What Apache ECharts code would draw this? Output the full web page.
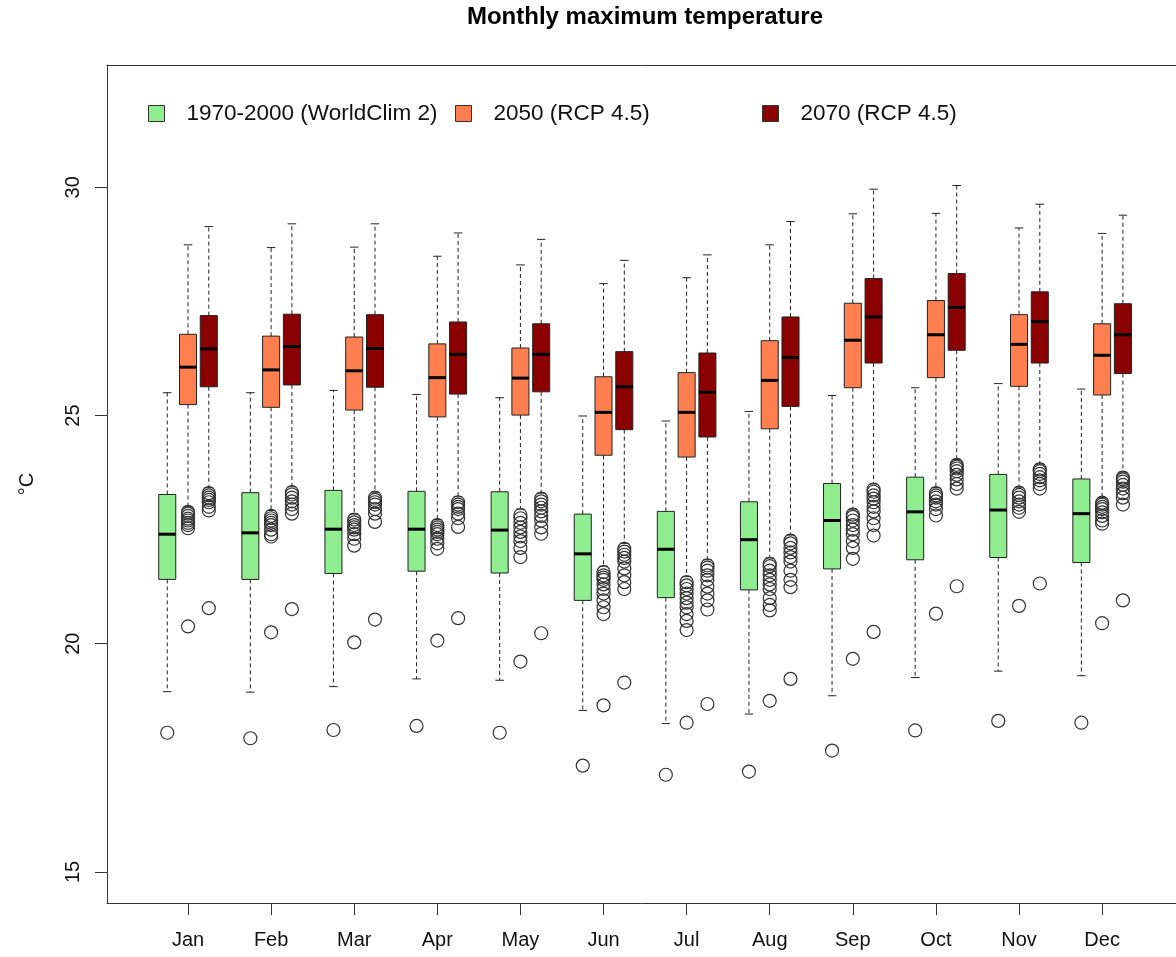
<!DOCTYPE html>
<html>
<head>
<meta charset="utf-8">
<title>Monthly maximum temperature</title>
<script src="https://cdn.jsdelivr.net/npm/echarts@6/dist/echarts.min.js"></script>
<style>
  html, body { margin: 0; padding: 0; background: #fff; }
  #chart { width: 1176px; height: 957px; }
</style>
</head>
<body>
<div id="chart"></div>
<script>
// ---- data ----------------------------------------------------------------
const months = ['Jan', 'Feb', 'Mar', 'Apr', 'May', 'Jun', 'Jul', 'Aug', 'Sep', 'Oct', 'Nov', 'Dec'];
const yTicks = [15, 20, 25, 30];
const groupNames = ['1970-2000 (WorldClim 2)', '2050 (RCP 4.5)', '2070 (RCP 4.5)'];
const groupColors = ['#90EE90', '#FF7F50', '#8B0000'];

// 1970-2000 (WorldClim 2): whisker low, Q1, median, Q3, whisker high
const base_lo  = [18.95, 18.94, 19.06, 19.23, 19.20, 18.54, 18.25, 18.46, 18.86, 19.26, 19.40, 19.30];
const base_q1  = [21.41, 21.41, 21.54, 21.59, 21.55, 20.95, 21.01, 21.18, 21.64, 21.84, 21.89, 21.78];
const base_med = [22.40, 22.43, 22.51, 22.51, 22.49, 21.97, 22.07, 22.28, 22.70, 22.89, 22.93, 22.85];
const base_q3  = [23.27, 23.31, 23.36, 23.34, 23.33, 22.84, 22.90, 23.11, 23.51, 23.65, 23.71, 23.61];
const base_hi  = [25.50, 25.50, 25.55, 25.46, 25.39, 24.99, 24.88, 25.09, 25.44, 25.61, 25.70, 25.58];
const base_out = [[18.05], [17.93], [18.11], [18.20], [18.05], [17.33], [17.13], [17.20], [17.66], [18.10], [18.31], [18.27]];

// 2050 (RCP 4.5)
const r2050_lo  = [23.00, 22.92, 22.84, 22.72, 22.95, 21.70, 21.47, 21.88, 22.95, 23.42, 23.43, 23.20];
const r2050_q1  = [25.24, 25.18, 25.12, 24.97, 25.01, 24.13, 24.09, 24.71, 25.61, 25.83, 25.64, 25.45];
const r2050_med = [26.06, 26.00, 25.98, 25.83, 25.82, 25.07, 25.07, 25.77, 26.65, 26.77, 26.56, 26.32];
const r2050_q3  = [26.78, 26.74, 26.72, 26.57, 26.48, 25.85, 25.94, 26.64, 27.46, 27.52, 27.21, 27.01];
const r2050_hi  = [28.74, 28.68, 28.69, 28.49, 28.30, 27.89, 28.02, 28.74, 29.42, 29.43, 29.11, 28.99];
const r2050_out = [
  [22.89, 22.85, 22.80, 22.74, 22.70, 22.65, 22.60, 22.53, 20.38],
  [22.80, 22.75, 22.70, 22.65, 22.60, 22.50, 22.40, 22.35, 20.25],
  [22.72, 22.66, 22.60, 22.55, 22.50, 22.40, 22.30, 22.15, 20.03],
  [22.60, 22.55, 22.50, 22.45, 22.40, 22.30, 22.20, 22.08, 20.07],
  [22.82, 22.75, 22.65, 22.55, 22.45, 22.35, 22.25, 22.10, 21.90, 19.61],
  [21.57, 21.50, 21.45, 21.40, 21.30, 21.20, 21.10, 20.95, 20.80, 20.65, 18.65],
  [21.35, 21.28, 21.20, 21.10, 21.00, 20.90, 20.80, 20.65, 20.50, 20.30, 18.27],
  [21.75, 21.70, 21.60, 21.50, 21.40, 21.30, 21.20, 21.00, 20.85, 20.73, 18.75],
  [22.83, 22.78, 22.70, 22.60, 22.50, 22.40, 22.25, 22.10, 21.86, 19.67],
  [23.30, 23.25, 23.20, 23.12, 23.05, 22.95, 22.81, 20.66],
  [23.31, 23.26, 23.20, 23.12, 23.05, 22.98, 22.89, 20.83],
  [23.09, 23.05, 23.00, 22.95, 22.88, 22.80, 22.70, 22.63, 20.45]
];

// 2070 (RCP 4.5)
const r2070_lo  = [23.42, 23.44, 23.32, 23.22, 23.30, 22.20, 21.84, 22.38, 23.50, 24.04, 23.94, 23.76];
const r2070_q1  = [25.63, 25.67, 25.62, 25.47, 25.52, 24.69, 24.53, 25.20, 26.15, 26.43, 26.15, 25.92];
const r2070_med = [26.46, 26.51, 26.47, 26.34, 26.34, 25.63, 25.51, 26.27, 27.16, 27.37, 27.06, 26.77];
const r2070_q3  = [27.19, 27.22, 27.21, 27.05, 27.01, 26.40, 26.37, 27.16, 28.00, 28.11, 27.71, 27.45];
const r2070_hi  = [29.14, 29.20, 29.20, 29.00, 28.86, 28.40, 28.52, 29.25, 29.96, 30.04, 29.63, 29.39];
const r2070_out = [
  [23.30, 23.25, 23.20, 23.15, 23.10, 23.00, 22.92, 20.78],
  [23.32, 23.27, 23.20, 23.12, 23.05, 22.95, 22.85, 20.76],
  [23.20, 23.15, 23.10, 23.05, 22.95, 22.85, 22.67, 20.53],
  [23.10, 23.05, 23.00, 22.95, 22.85, 22.75, 22.56, 20.56],
  [23.18, 23.12, 23.05, 22.98, 22.90, 22.80, 22.70, 22.55, 22.41, 20.23],
  [22.08, 22.02, 21.95, 21.88, 21.80, 21.65, 21.50, 21.35, 21.20, 19.15],
  [21.72, 21.67, 21.60, 21.50, 21.40, 21.25, 21.10, 20.95, 20.75, 18.68],
  [22.26, 22.20, 22.10, 22.00, 21.90, 21.80, 21.60, 21.40, 21.24, 19.23],
  [23.38, 23.33, 23.25, 23.18, 23.10, 23.00, 22.90, 22.75, 22.60, 22.37, 20.26],
  [23.92, 23.88, 23.84, 23.78, 23.70, 23.60, 23.50, 23.40, 21.26],
  [23.82, 23.78, 23.72, 23.65, 23.58, 23.50, 23.40, 21.32],
  [23.64, 23.60, 23.55, 23.48, 23.40, 23.30, 23.20, 23.05, 20.95]
];

// ---- layout constants ------------------------------------------------------
const GROUP_OFFSET = [-0.25, 0, 0.25];   // position of each period inside a month slot
const BOX_WIDTH = 0.205;                 // box width in month units
const X_MIN = 0.025;                     // plot frame starts just left of the first month
const X_MAX = 12.889;                    // canvas edge (the frame continues past it)
const FONT = '"Liberation Sans", Arial, Helvetica, sans-serif';
const INK = '#111';
const FRAME = '#333';

const groups = [
  { lo: base_lo,  q1: base_q1,  med: base_med,  q3: base_q3,  hi: base_hi,  out: base_out },
  { lo: r2050_lo, q1: r2050_q1, med: r2050_med, q3: r2050_q3, hi: r2050_hi, out: r2050_out },
  { lo: r2070_lo, q1: r2070_q1, med: r2070_med, q3: r2070_q3, hi: r2070_hi, out: r2070_out }
];

// Box with dashed whiskers, short staples and a heavy median bar.
function boxRenderer(fill) {
  return function (params, api) {
    const x = api.value(0);
    const cx = api.coord([x, api.value(3)])[0];
    const yLo = api.coord([x, api.value(1)])[1];
    const yQ1 = api.coord([x, api.value(2)])[1];
    const yMd = api.coord([x, api.value(3)])[1];
    const yQ3 = api.coord([x, api.value(4)])[1];
    const yHi = api.coord([x, api.value(5)])[1];
    const hw = api.size([BOX_WIDTH, 0])[0] / 2;
    const sw = hw * 0.5;
    const dashed = { stroke: '#222', lineWidth: 1, lineDash: [4, 3] };
    const solid = { stroke: '#222', lineWidth: 1 };
    return {
      type: 'group',
      children: [
        { type: 'line', shape: { x1: cx, y1: yQ3, x2: cx, y2: yHi }, style: dashed },
        { type: 'line', shape: { x1: cx, y1: yQ1, x2: cx, y2: yLo }, style: dashed },
        { type: 'line', shape: { x1: cx - sw, y1: yHi, x2: cx + sw, y2: yHi }, style: solid },
        { type: 'line', shape: { x1: cx - sw, y1: yLo, x2: cx + sw, y2: yLo }, style: solid },
        { type: 'rect', shape: { x: cx - hw, y: yQ3, width: 2 * hw, height: yQ1 - yQ3 },
          style: { fill: fill, stroke: '#222', lineWidth: 1 } },
        { type: 'line', shape: { x1: cx - hw, y1: yMd, x2: cx + hw, y2: yMd },
          style: { stroke: '#000', lineWidth: 3 } }
      ]
    };
  };
}

const series = [];
groups.forEach(function (g, gi) {
  const rows = months.map(function (m, i) {
    return [i + 1 + GROUP_OFFSET[gi], g.lo[i], g.q1[i], g.med[i], g.q3[i], g.hi[i]];
  });
  series.push({
    name: groupNames[gi],
    type: 'custom',
    renderItem: boxRenderer(groupColors[gi]),
    itemStyle: { color: groupColors[gi] },
    encode: { x: 0, y: [1, 2, 3, 4, 5] },
    data: rows,
    silent: true,
    z: 2
  });
});
groups.forEach(function (g, gi) {
  const pts = [];
  g.out.forEach(function (vals, i) {
    vals.forEach(function (v) { pts.push([i + 1 + GROUP_OFFSET[gi], v]); });
  });
  series.push({
    name: groupNames[gi] + ' outliers',
    type: 'scatter',
    symbol: 'circle',
    symbolSize: 13,
    itemStyle: { color: 'rgba(0,0,0,0)', borderColor: '#333', borderWidth: 1.2, opacity: 1 },
    data: pts,
    silent: true,
    z: 3
  });
});

const legendLefts = [148, 455, 762];
const legends = groupNames.map(function (name, i) {
  return {
    left: legendLefts[i],
    top: 102,
    padding: 0,
    itemWidth: 16,
    itemHeight: 16,
    selectedMode: false,
    icon: 'rect',
    itemStyle: { borderColor: '#333', borderWidth: 1 },
    textStyle: { fontFamily: FONT, fontSize: 22.5, color: INK, padding: [0, 0, 0, 17] },
    data: [{ name: name, itemStyle: { color: groupColors[i] } }]
  };
});

const monthTicks = months.map(function (m, i) { return i + 1; });

const chart = echarts.init(document.getElementById('chart'), null, { renderer: 'canvas' });
chart.setOption({
  backgroundColor: '#fff',
  animation: false,
  title: {
    text: 'Monthly maximum temperature',
    left: 645,
    top: 5,
    padding: 0,
    textAlign: 'center',
    textVerticalAlign: 'top',
    textStyle: { fontFamily: FONT, fontSize: 24, fontWeight: 'bold', color: '#000' }
  },
  legend: legends,
  grid: { left: 107, top: 65, right: 0, height: 838, show: false },
  xAxis: [
    {
      type: 'value',
      min: X_MIN,
      max: X_MAX,
      axisLine: { show: true, lineStyle: { color: FRAME, width: 1 } },
      splitLine: { show: false },
      axisTick: { show: true, inside: false, length: 12, customValues: monthTicks,
        lineStyle: { color: FRAME, width: 1 } },
      axisLabel: {
        customValues: monthTicks,
        formatter: function (v) { return months[Math.round(v) - 1] || ''; },
        margin: 27, fontFamily: FONT, fontSize: 20, color: INK
      }
    },
    {
      // top edge of the plot frame
      type: 'value',
      position: 'top',
      min: X_MIN,
      max: X_MAX,
      axisLine: { show: true, lineStyle: { color: FRAME, width: 1 } },
      axisTick: { show: false },
      axisLabel: { show: false },
      splitLine: { show: false }
    }
  ],
  yAxis: {
    type: 'value',
    min: 14.32,
    max: 32.68,
    name: '°C',
    nameLocation: 'middle',
    nameRotate: 90,
    nameGap: 70,
    nameTextStyle: { fontFamily: FONT, fontSize: 20, color: INK },
    axisLine: { show: true, lineStyle: { color: FRAME, width: 1 } },
    splitLine: { show: false },
    axisTick: { show: true, inside: false, length: 12, customValues: yTicks, lineStyle: { color: FRAME, width: 1 } },
    axisLabel: { customValues: yTicks, rotate: 90, margin: 24, fontFamily: FONT, fontSize: 20, color: INK }
  },
  series: series
});
</script>
</body>
</html>
